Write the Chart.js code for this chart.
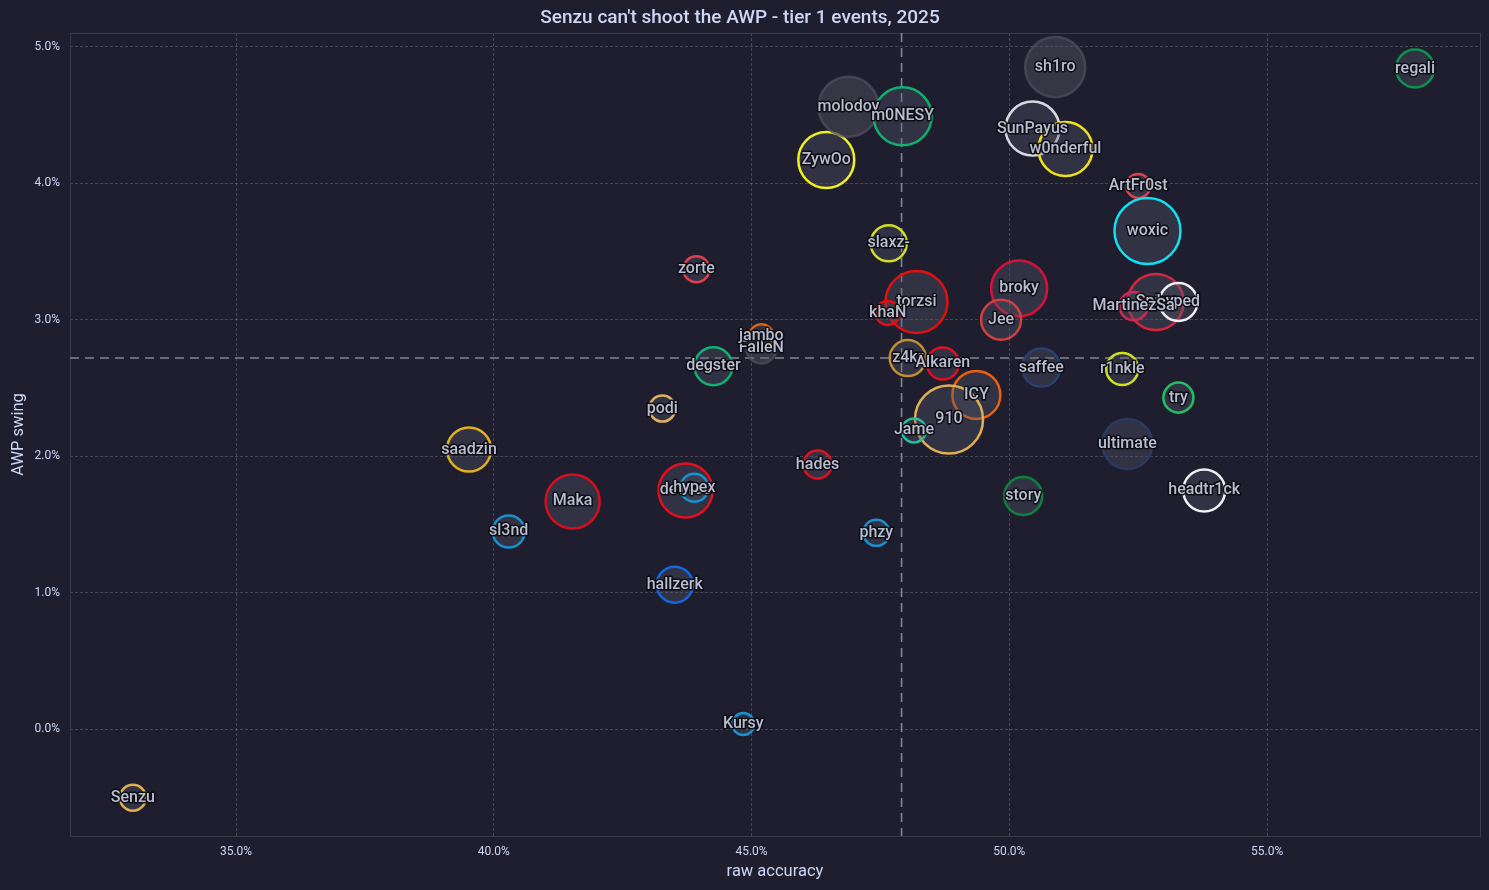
<!DOCTYPE html>
<html>
<head>
<meta charset="utf-8">
<title>Senzu can't shoot the AWP</title>
<script src="https://cdn.jsdelivr.net/npm/chart.js@4.4.1/dist/chart.umd.min.js"></script>
<style>
  html, body { margin: 0; padding: 0; background: #1e1e2e; }
  #wrap { width: 1489px; height: 890px; }
</style>
</head>
<body>
<div id="wrap"><canvas id="awpChart" width="1489" height="890"></canvas></div>
<script>
// players, in draw order
const players = [
    "Senzu", "Kursy", "hallzerk", "sl3nd", "Maka", "saadzin", "dev1ce", "hypex",
    "podi", "degster", "FalleN", "jambo", "zorte", "ZywOo", "molodoy", "m0NESY",
    "slaxz-", "torzsi", "khaN", "z4kr", "Alkaren", "ICY", "910", "Jame", "hades",
    "phzy", "sh1ro", "SunPayus", "w0nderful", "ArtFr0st", "woxic", "broky", "Jee",
    "Spinx", "hyped", "MartinezSa", "saffee", "r1nkle", "try", "ultimate",
    "headtr1ck", "story", "regali",
];

// raw accuracy, %
const rawAccuracy = [
    33.0, 44.84, 43.51, 40.29, 41.53, 39.52, 43.72, 43.89,
    43.27, 44.26, 45.19, 45.19, 43.93, 46.45, 46.88, 47.93,
    47.66, 48.20, 47.64, 48.03, 48.71, 49.36, 48.83, 48.15, 46.28,
    47.42, 50.89, 50.45, 51.09, 52.50, 52.68, 50.19, 49.84,
    52.84, 53.28, 52.41, 50.62, 52.19, 53.28, 52.29,
    53.78, 50.27, 57.87,
];

// AWP swing, %
const awpSwing = [
    -0.50, 0.04, 1.06, 1.45, 1.67, 2.05, 1.75, 1.77,
    2.35, 2.66, 2.79, 2.88, 3.37, 4.17, 4.56, 4.49,
    3.56, 3.13, 3.05, 2.72, 2.68, 2.45, 2.27, 2.19, 1.94,
    1.44, 4.85, 4.40, 4.25, 3.98, 3.65, 3.23, 3.00,
    3.13, 3.13, 3.10, 2.65, 2.64, 2.43, 2.09,
    1.75, 1.71, 4.84,
];

// AWP kills (bubble size)
const awpKills = [
    66, 47, 127, 100, 285, 189, 285, 77,
    66, 141, 88, 56, 66, 306, 352, 329,
    127, 375, 56, 127, 100, 225, 452, 56, 77,
    66, 352, 285, 285, 56, 425, 306, 156,
    306, 141, 77, 141, 100, 88, 244,
    172, 141, 141,
];

const teamColors = [
    "#e0b050", "#1a90d0", "#1565e0", "#1a90d0", "#d01020", "#e0b020", "#e01020", "#1a90d0",
    "#e0b060", "#10b070", "gray", "#e06010", "#e04050", "#f0f020", "gray", "#10b070",
    "#d0e020", "#e01010", "#e01010", "#c09030", "#e01020", "#e86010", "#e0b050", "#20c0a0", "#e01020",
    "#1a90d0", "gray", "#d8d8e0", "#f0e020", "#e04050", "#10e0f0", "#d8103a", "#d04040",
    "#d02840", "#f0f0f5", "#d02850", "#2a4070", "#d0e020", "#20c060", "#2a3a60",
    "#f0f0f5", "#108040", "#109050",
];

const xTickValues = [35, 40, 45, 50, 55];
const yTickValues = [0, 1, 2, 3, 4, 5];
const xMean = 47.91;
const yMean = 2.72;

const textColor = "#cdd6f4";
const baseFont = "Roboto, 'DejaVu Sans', sans-serif";

const bubbleData = players.map((p, i) => ({
    x: rawAccuracy[i],
    y: awpSwing[i],
    r: 1.6 * Math.sqrt(awpKills[i]),
}));

const fills = teamColors.map((c) => (c === "gray" ? "rgba(95,95,108,0.38)" : "rgba(88,91,112,0.33)"));
const borders = teamColors.map((c) => (c === "gray" ? "rgba(80,80,94,0.7)" : c));

// frame around plot + mean lines
const framePlugin = {
    id: "frame",
    beforeDatasetsDraw(chart) {
        const { ctx, chartArea: a, scales } = chart;
        ctx.save();
        ctx.strokeStyle = "#3a3a4e";
        ctx.lineWidth = 1;
        ctx.strokeRect(a.left + 0.5, a.top + 0.5, a.right - a.left, a.bottom - a.top);

        ctx.strokeStyle = "rgba(150,150,165,0.85)";
        ctx.lineWidth = 1.6;
        ctx.setLineDash([9, 6]);
        const mx = scales.x.getPixelForValue(xMean);
        const my = scales.y.getPixelForValue(yMean);
        ctx.beginPath();
        ctx.moveTo(mx, a.top);
        ctx.lineTo(mx, a.bottom);
        ctx.moveTo(a.left, my);
        ctx.lineTo(a.right, my);
        ctx.stroke();
        ctx.restore();
    },
};

// player names on top of the bubbles
const labelPlugin = {
    id: "names",
    afterDatasetsDraw(chart) {
        const { ctx } = chart;
        const meta = chart.getDatasetMeta(0);
        ctx.save();
        ctx.font = "500 16px " + baseFont;
        ctx.textAlign = "center";
        ctx.textBaseline = "middle";
        ctx.lineJoin = "round";
        meta.data.forEach((el, i) => {
            ctx.lineWidth = 3;
            ctx.strokeStyle = "rgba(10,10,16,0.9)";
            ctx.strokeText(players[i], el.x, el.y);
            ctx.fillStyle = "#b9bdd0";
            ctx.fillText(players[i], el.x, el.y);
        });
        ctx.restore();
    },
};

new Chart(document.getElementById("awpChart"), {
    type: "bubble",
    data: {
        datasets: [
            {
                label: "players",
                data: bubbleData,
                backgroundColor: fills,
                borderColor: borders,
                borderWidth: 2.5,
            },
        ],
    },
    options: {
        responsive: false,
        animation: false,
        events: [],
        layout: { autoPadding: false, padding: { left: 0, right: 9, top: 0, bottom: 0 } },
        plugins: {
            legend: { display: false },
            tooltip: { enabled: false },
            title: {
                display: true,
                text: "Senzu can't shoot the AWP - tier 1 events, 2025",
                color: textColor,
                font: { family: baseFont, size: 19, weight: "500" },
                padding: { top: 7, bottom: 3.2 },
            },
        },
        scales: {
            x: {
                type: "linear",
                min: 31.78,
                max: 59.13,
                afterBuildTicks: (s) => { s.ticks = xTickValues.map((v) => ({ value: v })); },
                afterFit: (s) => { s.height = 54; s.paddingLeft = 0; s.paddingRight = 0; },
                ticks: {
                    color: textColor,
                    font: { family: baseFont, size: 12 },
                    padding: 9,
                    callback: (v) => Number(v).toFixed(1) + "%",
                },
                grid: { color: "rgba(205,214,244,0.22)", drawTicks: false, lineWidth: 1 },
                border: { display: false, dash: [3, 2] },
                title: {
                    display: true,
                    text: "raw accuracy",
                    color: textColor,
                    font: { family: baseFont, size: 16.5 },
                    padding: { top: 0, bottom: 8 },
                },
            },
            y: {
                type: "linear",
                min: -0.78,
                max: 5.10,
                afterBuildTicks: (s) => { s.ticks = yTickValues.map((v) => ({ value: v })); },
                afterFit: (s) => { s.width = 70; s.paddingTop = 0; s.paddingBottom = 0; },
                ticks: {
                    color: textColor,
                    font: { family: baseFont, size: 12 },
                    padding: 10,
                    callback: (v) => Number(v).toFixed(1) + "%",
                },
                grid: { color: "rgba(205,214,244,0.22)", drawTicks: false, lineWidth: 1 },
                border: { display: false, dash: [3, 2] },
                title: {
                    display: true,
                    text: "AWP swing",
                    color: textColor,
                    font: { family: baseFont, size: 16.5 },
                    padding: { top: 9, bottom: 0 },
                },
            },
        },
    },
    plugins: [framePlugin, labelPlugin],
});
</script>
</body>
</html>
